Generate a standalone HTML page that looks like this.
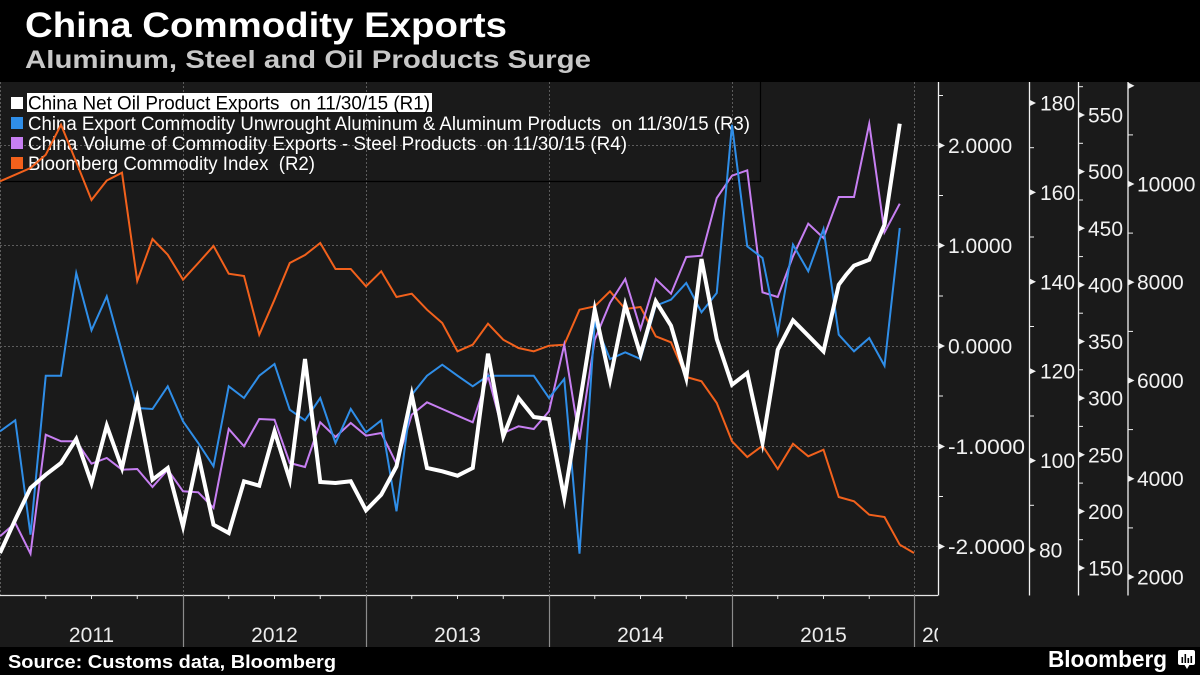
<!DOCTYPE html>
<html>
<head>
<meta charset="utf-8">
<style>
html,body{margin:0;padding:0;background:#000;}
svg{display:block;}
text{font-family:"Liberation Sans",sans-serif;}
.pre{white-space:pre;}
</style>
</head>
<body>
<svg width="1200" height="675" viewBox="0 0 1200 675" xmlns="http://www.w3.org/2000/svg">
<defs>
<clipPath id="plot"><rect x="0" y="82" width="938" height="513"/></clipPath>
<clipPath id="xlab"><rect x="0" y="596" width="938" height="51"/></clipPath>
</defs>
<rect x="0" y="0" width="1200" height="675" fill="#000"/>
<rect x="0" y="82" width="1200" height="565" fill="#1a1a1a"/>

<!-- Title -->
<text x="25" y="37" font-size="35" font-weight="bold" fill="#ffffff" textLength="482" lengthAdjust="spacingAndGlyphs">China Commodity Exports</text>
<text x="25" y="68" font-size="25" font-weight="bold" fill="#c8c8c8" textLength="566" lengthAdjust="spacingAndGlyphs">Aluminum, Steel and Oil Products Surge</text>

<!-- Grid -->
<g stroke="#5c5c5c" stroke-width="1" stroke-dasharray="2,2" fill="none">
<line x1="0" y1="145.5" x2="938" y2="145.5"/>
<line x1="0" y1="245.5" x2="938" y2="245.5"/>
<line x1="0" y1="346.5" x2="938" y2="346.5"/>
<line x1="0" y1="446.5" x2="938" y2="446.5"/>
<line x1="0" y1="546.5" x2="938" y2="546.5"/>
<line x1="0.5" y1="82" x2="0.5" y2="595"/>
<line x1="183.5" y1="82" x2="183.5" y2="595"/>
<line x1="366.5" y1="82" x2="366.5" y2="595"/>
<line x1="549.5" y1="82" x2="549.5" y2="595"/>
<line x1="732.5" y1="82" x2="732.5" y2="595"/>
<line x1="914.5" y1="82" x2="914.5" y2="595"/>
</g>

<!-- Legend -->
<path d="M760.5,82 L760.5,181.5 L0,181.5" stroke="#000" stroke-width="1.2" fill="none"/>
<rect x="11" y="97" width="12" height="12" fill="#ffffff"/>
<rect x="11" y="117" width="12" height="12" fill="#2f8ee8"/>
<rect x="11" y="137" width="12" height="12" fill="#c77ff2"/>
<rect x="11" y="157" width="12" height="12" fill="#f2611c"/>
<rect x="27" y="93" width="405" height="19" fill="#ffffff"/>
<text class="pre" x="28" y="109.5" font-size="19" fill="#000" textLength="402" lengthAdjust="spacingAndGlyphs">China Net Oil Product Exports  on 11/30/15 (R1)</text>
<text class="pre" x="28" y="130" font-size="19" fill="#fff" textLength="722" lengthAdjust="spacingAndGlyphs">China Export Commodity Unwrought Aluminum &amp; Aluminum Products  on 11/30/15 (R3)</text>
<text class="pre" x="28" y="150" font-size="19" fill="#fff" textLength="599" lengthAdjust="spacingAndGlyphs">China Volume of Commodity Exports - Steel Products  on 11/30/15 (R4)</text>
<text class="pre" x="28" y="170" font-size="19" fill="#fff" textLength="287" lengthAdjust="spacingAndGlyphs">Bloomberg Commodity Index  (R2)</text>

<!-- Series -->
<g clip-path="url(#plot)" fill="none" stroke-linejoin="miter" stroke-miterlimit="6">
<polyline stroke="#f2611c" stroke-width="2" points="0,181.3 15.25,174.7 30.5,168 45.75,154.7 61,124.7 76.25,162 91.5,200 106.75,180.5 122,172.7 137.25,281 152.5,239 167.75,254.7 183,279.7 198.25,263 213.5,246 228.75,273.7 244,276 259.25,334.7 274.5,299.7 289.75,263 305,255 320.25,243 335.5,269 350.75,269 366,286.3 381.25,271.3 396.5,297 411.75,293.7 427,309.7 442.25,323 457.5,351.3 472.75,344.7 488,323.7 503.25,339.7 518.5,348 533.75,351.3 549,345.7 564.25,344.7 579.5,309.7 594.75,306.3 610,291.3 625.25,309 640.5,307 655.75,336.3 671,342.3 686.25,377 701.5,381.3 716.75,403 732,441.3 747.25,457 762.5,445.7 777.75,469 793,443.7 808.25,456.3 823.5,449.7 838.75,497 854,501.3 869.25,514.7 884.5,517 899.75,544.7 914,553"/>
<polyline stroke="#c77ff2" stroke-width="2" points="0,536.3 15.25,523 30.5,553.7 45.75,434.7 61,441.3 76.25,441.3 91.5,463.7 106.75,458 122,469.7 137.25,469 152.5,487 167.75,469.7 183,491.3 198.25,492.3 213.5,508 228.75,429 244,446.3 259.25,419 274.5,419.7 289.75,463 305,467 320.25,422.3 335.5,437 350.75,423 366,435.7 381.25,433 396.5,463.7 411.75,414.7 427,402.3 442.25,409 457.5,415.7 472.75,422.3 488,375.7 503.25,433 518.5,426.3 533.75,429 549,411.3 564.25,344.7 579.5,439.7 594.75,339.7 610,303 625.25,279 640.5,329 655.75,279 671,293.7 686.25,257 701.5,255.7 716.75,198 732,175.7 747.25,170.3 762.5,292.3 777.75,297 793,256.3 808.25,223.7 823.5,238 838.75,197 854,197 869.25,123.7 884.5,232.3 899.75,203.7"/>
<polyline stroke="#2f8ee8" stroke-width="2" points="0,431.3 15.25,420.3 30.5,534.7 45.75,375.7 61,375.7 76.25,273 91.5,330.3 106.75,296.3 122,352 137.25,408 152.5,409 167.75,386.3 183,421.3 198.25,443 213.5,466.3 228.75,386.3 244,398 259.25,375.7 274.5,364 289.75,409.7 305,420.3 320.25,398 335.5,443 350.75,409 366,432.3 381.25,420.3 396.5,511.3 411.75,394.7 427,375.7 442.25,364.7 457.5,375.7 472.75,386.3 488,375.7 503.25,375.7 518.5,375.7 533.75,375.7 549,398 564.25,379 579.5,553.7 594.75,322.3 610,359 625.25,352.3 640.5,359 655.75,305.7 671,299.7 686.25,283 701.5,312.3 716.75,293 732,124.7 747.25,246.3 762.5,258 777.75,333 793,244.7 808.25,271.3 823.5,229 838.75,334.7 854,351.3 869.25,338 884.5,365.7 899.75,228"/>
<polyline stroke="#ffffff" stroke-width="4" points="0,553 15.25,519.7 30.5,488 45.75,474.7 61,463 76.25,439 91.5,483 106.75,425.7 122,468 137.25,399.7 152.5,479.7 167.75,468 183,526.3 198.25,454.7 213.5,524.7 228.75,533 244,481.3 259.25,485.7 274.5,431.3 289.75,479.7 305,359 320.25,482 335.5,483 350.75,481.3 366,510.3 381.25,494.7 396.5,466.3 411.75,394.7 427,468 442.25,471.3 457.5,475.7 472.75,468 488,353.7 503.25,436.3 518.5,398 533.75,417 549,419 564.25,498 579.5,404.7 594.75,309.7 610,379.7 625.25,304.7 640.5,354.7 655.75,301.3 671,325.7 686.25,378 701.5,259 716.75,339 732,384.7 747.25,373 762.5,443 777.75,349.7 793,320.3 808.25,335.7 823.5,351.3 838.75,284.7 846,275 854,265.7 869.25,259.7 884.5,224.7 899.75,123.7"/>
</g>

<!-- X axis -->
<line x1="0" y1="595.5" x2="938" y2="595.5" stroke="#e6e6e6" stroke-width="1.2"/>
<g stroke="#e6e6e6" stroke-width="1">
<line x1="45.75" y1="595" x2="45.75" y2="599"/><line x1="91.5" y1="595" x2="91.5" y2="599"/><line x1="137.25" y1="595" x2="137.25" y2="599"/>
<line x1="228.75" y1="595" x2="228.75" y2="599"/><line x1="274.5" y1="595" x2="274.5" y2="599"/><line x1="320.25" y1="595" x2="320.25" y2="599"/>
<line x1="411.75" y1="595" x2="411.75" y2="599"/><line x1="457.5" y1="595" x2="457.5" y2="599"/><line x1="503.25" y1="595" x2="503.25" y2="599"/>
<line x1="594.75" y1="595" x2="594.75" y2="599"/><line x1="640.5" y1="595" x2="640.5" y2="599"/><line x1="686.25" y1="595" x2="686.25" y2="599"/>
<line x1="777.75" y1="595" x2="777.75" y2="599"/><line x1="823.5" y1="595" x2="823.5" y2="599"/><line x1="869.25" y1="595" x2="869.25" y2="599"/>
</g>
<g stroke="#8c8c8c" stroke-width="1.2">
<line x1="183.5" y1="595" x2="183.5" y2="647"/>
<line x1="366.5" y1="595" x2="366.5" y2="647"/>
<line x1="549.5" y1="595" x2="549.5" y2="647"/>
<line x1="732.5" y1="595" x2="732.5" y2="647"/>
<line x1="914.5" y1="595" x2="914.5" y2="647"/>
</g>
<g font-size="21" fill="#ececec" text-anchor="middle">
<text x="91.5" y="642">2011</text>
<text x="274.5" y="642">2012</text>
<text x="457.5" y="642">2013</text>
<text x="640.5" y="642">2014</text>
<text x="823.5" y="642">2015</text>
</g>
<g clip-path="url(#xlab)"><text x="922" y="642" font-size="21" fill="#ececec">2016</text></g>

<!-- Right axes -->
<g stroke="#f0f0f0" stroke-width="1.3">
<line x1="938.5" y1="82" x2="938.5" y2="595.5"/>
<line x1="1029.5" y1="82" x2="1029.5" y2="595.5"/>
<line x1="1078.5" y1="82" x2="1078.5" y2="595.5"/>
<line x1="1128" y1="82" x2="1128" y2="595.5"/>
</g>
<g stroke="#f0f0f0" stroke-width="1">
<line x1="938" y1="95.5" x2="943" y2="95.5"/><line x1="938" y1="195.5" x2="943" y2="195.5"/><line x1="938" y1="296" x2="943" y2="296"/><line x1="938" y1="396" x2="943" y2="396"/><line x1="938" y1="496.5" x2="943" y2="496.5"/>
<line x1="1029" y1="147.7" x2="1034" y2="147.7"/><line x1="1029" y1="237" x2="1034" y2="237"/><line x1="1029" y1="326.5" x2="1034" y2="326.5"/><line x1="1029" y1="416" x2="1034" y2="416"/><line x1="1029" y1="505.3" x2="1034" y2="505.3"/>
<line x1="1078" y1="86.7" x2="1083" y2="86.7"/><line x1="1078" y1="143.3" x2="1083" y2="143.3"/><line x1="1078" y1="200" x2="1083" y2="200"/><line x1="1078" y1="256.6" x2="1083" y2="256.6"/><line x1="1078" y1="313.2" x2="1083" y2="313.2"/><line x1="1078" y1="369.8" x2="1083" y2="369.8"/><line x1="1078" y1="426.4" x2="1083" y2="426.4"/><line x1="1078" y1="483.1" x2="1083" y2="483.1"/><line x1="1078" y1="539.7" x2="1083" y2="539.7"/>
<line x1="1128" y1="134.9" x2="1133" y2="134.9"/><line x1="1128" y1="233.1" x2="1133" y2="233.1"/><line x1="1128" y1="331.4" x2="1133" y2="331.4"/><line x1="1128" y1="429.6" x2="1133" y2="429.6"/><line x1="1128" y1="527.9" x2="1133" y2="527.9"/>
</g>
<g fill="#f0f0f0">
<polygon points="939,142.5 945,145.5 939,148.5"/><polygon points="939,242.5 945,245.5 939,248.5"/><polygon points="939,343 945,346 939,349"/><polygon points="939,443.5 945,446.5 939,449.5"/><polygon points="939,543.5 945,546.5 939,549.5"/>
<polygon points="1030,100 1036,103 1030,106"/><polygon points="1030,189.4 1036,192.4 1030,195.4"/><polygon points="1030,278.8 1036,281.8 1030,284.8"/><polygon points="1030,368.2 1036,371.2 1030,374.2"/><polygon points="1030,457.6 1036,460.6 1030,463.6"/><polygon points="1030,547 1036,550 1030,553"/>
<polygon points="1079,112 1085,115 1079,118"/><polygon points="1079,168.6 1085,171.6 1079,174.6"/><polygon points="1079,225.3 1085,228.3 1079,231.3"/><polygon points="1079,281.9 1085,284.9 1079,287.9"/><polygon points="1079,338.5 1085,341.5 1079,344.5"/><polygon points="1079,395.1 1085,398.1 1079,401.1"/><polygon points="1079,451.8 1085,454.8 1079,457.8"/><polygon points="1079,508.4 1085,511.4 1079,514.4"/><polygon points="1079,565 1085,568 1079,571"/>
<polygon points="1128.5,82.75 1134.5,85.75 1128.5,88.75"/><polygon points="1128.5,181 1134.5,184 1128.5,187"/><polygon points="1128.5,279.25 1134.5,282.25 1128.5,285.25"/><polygon points="1128.5,377.5 1134.5,380.5 1128.5,383.5"/><polygon points="1128.5,475.75 1134.5,478.75 1128.5,481.75"/><polygon points="1128.5,574 1134.5,577 1128.5,580"/>
</g>
<g font-size="21" fill="#f2f2f2">
<text x="948" y="153">2.0000</text>
<text x="948" y="253">1.0000</text>
<text x="948" y="353.5">0.0000</text>
<text x="948" y="454" textLength="77" lengthAdjust="spacingAndGlyphs">-1.0000</text>
<text x="948" y="554" textLength="77" lengthAdjust="spacingAndGlyphs">-2.0000</text>

<text x="1040" y="110.5">180</text>
<text x="1040" y="200">160</text>
<text x="1040" y="289.3">140</text>
<text x="1040" y="378.7">120</text>
<text x="1040" y="468">100</text>
<text x="1039" y="557.5">80</text>

<text x="1088" y="122.5">550</text>
<text x="1088" y="179">500</text>
<text x="1088" y="235.8">450</text>
<text x="1088" y="292.4">400</text>
<text x="1088" y="349">350</text>
<text x="1088" y="405.6">300</text>
<text x="1088" y="462.3">250</text>
<text x="1088" y="518.9">200</text>
<text x="1088" y="575.5">150</text>

<text x="1137" y="191.5">10000</text>
<text x="1137" y="289.7">8000</text>
<text x="1137" y="388">6000</text>
<text x="1137" y="486.2">4000</text>
<text x="1137" y="584.5">2000</text>
</g>

<!-- Footer -->
<rect x="0" y="647" width="1200" height="28" fill="#000"/>
<text x="8" y="668" font-size="18" font-weight="bold" fill="#ffffff" textLength="328" lengthAdjust="spacingAndGlyphs">Source: Customs data, Bloomberg</text>
<text x="1048" y="667" font-size="23" font-weight="bold" fill="#ffffff" textLength="119" lengthAdjust="spacingAndGlyphs">Bloomberg</text>
<g>
<rect x="1178" y="650" width="17" height="15" rx="2" fill="#ffffff"/>
<polygon points="1184,664 1190,664 1187,669" fill="#ffffff"/>
<rect x="1181.5" y="657" width="1.6" height="6" fill="#000"/>
<rect x="1184.5" y="654" width="1.6" height="9" fill="#000"/>
<rect x="1187.5" y="658" width="1.6" height="5" fill="#000"/>
<rect x="1190.5" y="656" width="1.6" height="7" fill="#000"/>
</g>
</svg>
</body>
</html>
